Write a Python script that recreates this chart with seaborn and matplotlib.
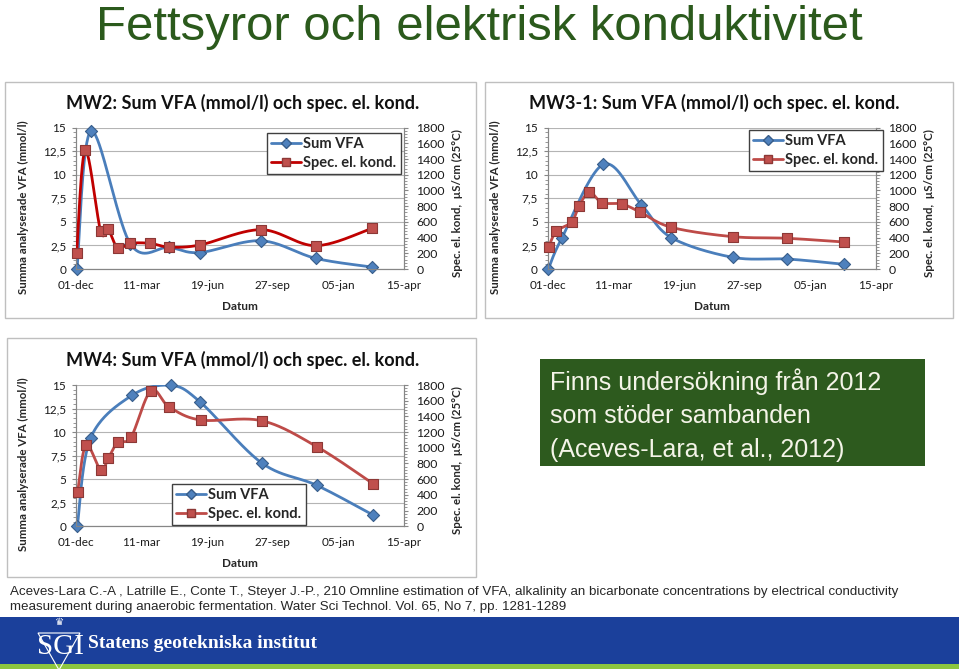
import numpy as np
import pandas as pd
import matplotlib
matplotlib.use("Agg")
import matplotlib.pyplot as plt
import seaborn as sns
from matplotlib.lines import Line2D
from matplotlib.patches import Rectangle, Polygon

# ---------------- data ----------------
tick_days = [0, 100, 200, 300, 400, 500]
tick_labels = ["01-dec", "11-mar", "19-jun", "27-sep", "05-jan", "15-apr"]
left_ticks = [0, 2.5, 5, 7.5, 10, 12.5, 15]
left_tick_labels = ["0", "2,5", "5", "7,5", "10", "12,5", "15"]
right_ticks = [0, 200, 400, 600, 800, 1000, 1200, 1400, 1600, 1800]

mw2_vfa_days = [1.5, 23, 83, 142, 189, 282, 365.5, 451]
mw2_vfa = [0.0, 14.64, 2.65, 2.3, 1.75, 3.0, 1.13, 0.21]
mw2_kond_days = [1, 14, 37.5, 49, 63.5, 83, 113, 142, 189, 282, 365.5, 451]
mw2_kond = [208, 1515, 484, 505, 267, 327, 327, 280, 306, 501, 297, 518]

mw3_vfa_days = [1, 21.3, 84.8, 142.6, 188.3, 281.7, 365, 451]
mw3_vfa = [0.0, 3.25, 11.11, 6.83, 3.33, 1.24, 1.06, 0.50]
mw3_kond_days = [1.5, 13.2, 36.5, 47.7, 63.5, 82.7, 112.7, 140.6, 188.3, 281.7, 365, 451]
mw3_kond = [284, 480, 599, 802, 980, 845, 828, 726, 531, 412, 391, 344]

mw4_vfa_days = [2, 22.3, 85.3, 144.2, 188.8, 283.2, 367, 452.8]
mw4_vfa = [0.0, 9.37, 13.90, 14.96, 13.23, 6.72, 4.35, 1.20]
mw4_kond_days = [2.5, 15.2, 37.6, 49.2, 64, 83.8, 114.2, 142.1, 189.8, 283.2, 367, 452.8]
mw4_kond = [441, 1036, 717, 866, 1074, 1133, 1728, 1520, 1354, 1345, 1015, 543]

series_names = ["Sum VFA", "Spec. el. kond."]
chart_titles = ["MW2: Sum VFA (mmol/l) och spec. el. kond.",
                "MW3-1: Sum VFA (mmol/l) och spec. el. kond.",
                "MW4: Sum VFA (mmol/l) och spec. el. kond."]

# ---------------- style ----------------
sns.set_style("white")
plt.rcParams["font.family"] = ["Lato", "DejaVu Sans"]

W, H = 959, 671
fig = plt.figure(figsize=(W / 100, H / 100), dpi=100)


def fx(x):
    return x / W


def fy(y):
    return 1 - y / H


BLUE_L, BLUE_F, BLUE_E = "#4A7EBB", "#4F81BD", "#385D8A"
RED_L, RED_F, RED_E = "#BE4B48", "#C0504D", "#8C3836"
AXC = "#868686"


def smooth(xs, ys, n=40):
    pts = np.column_stack([xs, ys]).astype(float)
    out = [pts[0]]
    for i in range(len(pts) - 1):
        p0 = pts[i - 1] if i > 0 else pts[i]
        p1, p2 = pts[i], pts[i + 1]
        p3 = pts[i + 2] if i + 2 < len(pts) else pts[i + 1]
        c1 = p1 + (p2 - p0) / 6
        c2 = p2 - (p3 - p1) / 6
        t = np.linspace(0, 1, n)[1:, None]
        seg = (1 - t) ** 3 * p1 + 3 * (1 - t) ** 2 * t * c1 + 3 * (1 - t) * t ** 2 * c2 + t ** 3 * p2
        out.extend(seg)
    out = np.array(out)
    return pd.DataFrame({"x": out[:, 0], "y": out[:, 1]})


def frame(x0, y0, x1, y1):
    fig.patches.append(Rectangle((fx(x0), fy(y1)), fx(x1) - fx(x0), fy(y0) - fy(y1),
                                 transform=fig.transFigure, facecolor="white",
                                 edgecolor="#BFBFBF", lw=1.0, zorder=-10))


def chart(ax_px, title, title_xy, vd, vv, kd, kv, red_line, leg_xy):
    x0, ytop, x1, ybot = ax_px
    ax = fig.add_axes([fx(x0), fy(ybot), fx(x1) - fx(x0), fy(ytop) - fy(ybot)])
    ax2 = ax.twinx()
    # red series (right axis)
    sk = smooth(kd, kv)
    sns.lineplot(data=sk, x="x", y="y", ax=ax2, sort=False, estimator=None,
                 color=red_line, lw=2.0, zorder=3)
    sns.scatterplot(x=kd, y=kv, ax=ax2, marker="s", s=55, color=RED_F,
                    edgecolor=RED_E, linewidth=0.8, zorder=4, clip_on=False)
    # blue series (left axis)
    sv = smooth(vd, vv)
    sns.lineplot(data=sv, x="x", y="y", ax=ax, sort=False, estimator=None,
                 color=BLUE_L, lw=2.0, zorder=3)
    sns.scatterplot(x=vd, y=vv, ax=ax, marker="D", s=38, color=BLUE_F,
                    edgecolor=BLUE_E, linewidth=0.8, zorder=4, clip_on=False)

    ax.set_xlim(0, 500)
    ax.set_ylim(0, 15)
    ax2.set_ylim(0, 1800)
    ax.set_xticks(tick_days)
    ax.set_xticklabels(tick_labels)
    ax.set_yticks(left_ticks)
    ax.set_yticklabels(left_tick_labels)
    ax2.set_yticks(right_ticks)
    ax.set_xticks(np.arange(0, 501, 20), minor=True)
    ax.set_yticks(np.arange(0, 15.01, 0.5), minor=True)
    ax2.set_yticks(np.arange(0, 1801, 40), minor=True)
    ax.grid(axis="y", color="#B4B4B4", lw=0.8)
    ax.set_axisbelow(True)
    for a in (ax, ax2):
        a.spines["top"].set_visible(False)
        for s in ("left", "right", "bottom"):
            a.spines[s].set_color(AXC)
            a.spines[s].set_linewidth(0.8)
        a.tick_params(which="major", length=3, color=AXC, labelsize=8.5,
                      labelcolor="#1a1a1a", pad=4)
        a.tick_params(which="minor", length=2, color=AXC)
    ax.tick_params(axis="x", pad=5)
    ax2.tick_params(axis="y", pad=6, labelsize=8.8)
    ax.set_xlabel("Datum", fontsize=8.5, fontweight="bold")
    ax.xaxis.set_label_coords(0.5, -0.225)
    ax.set_ylabel("Summa analyserade VFA (mmol/l)", fontsize=8.3, fontweight="bold")
    ax.yaxis.set_label_coords(-0.143, 0.44)
    ax2.set_ylabel("Spec. el. kond,  µS/cm (25°C)", fontsize=8.3, fontweight="bold")
    ax2.yaxis.set_label_coords(1.147, 0.47)
    ax.set_facecolor("white")
    ax2.patch.set_visible(False)

    fig.text(fx(title_xy[0]), fy(title_xy[1]), title, ha="center", va="center",
             fontsize=13, fontweight="bold", color="#111111")

    handles = [Line2D([], [], color=BLUE_L, lw=2, marker="D", ms=5.5, mfc=BLUE_F, mec=BLUE_E),
               Line2D([], [], color=red_line, lw=2, marker="s", ms=6, mfc=RED_F, mec=RED_E)]
    fig.legend(handles, series_names, loc="upper left",
               bbox_to_anchor=(fx(leg_xy[0]), fy(leg_xy[1])), frameon=True,
               fancybox=False, edgecolor="#404040", framealpha=1,
               prop={"weight": "bold", "size": 10.5}, handlelength=2.0,
               borderpad=0.3, labelspacing=0.3, handletextpad=0.2,
               borderaxespad=0)
    return ax


# ---------------- title ----------------
fig.text(0.5, fy(40), "Fettsyror och elektrisk konduktivitet", ha="center", va="baseline",
         fontsize=35.4, color="#2B5A1C",
         family=["Liberation Sans Narrow", "Liberation Sans", "DejaVu Sans"])

# ---------------- chart frames ----------------
frame(5, 82, 476, 318)
frame(485, 82, 953, 318)
frame(7, 338, 476, 577)

chart((76, 127.7, 404, 269), chart_titles[0], (243, 102.7),
      mw2_vfa_days, mw2_vfa, mw2_kond_days, mw2_kond, "#C00000", (267, 133))
chart((547.7, 127.7, 876, 269), chart_titles[1], (714, 102.7),
      mw3_vfa_days, mw3_vfa, mw3_kond_days, mw3_kond, RED_L, (749, 130))
chart((76, 385, 404, 526.3), chart_titles[2], (243, 360),
      mw4_vfa_days, mw4_vfa, mw4_kond_days, mw4_kond, RED_L, (172, 484))

# ---------------- green note box ----------------
fig.patches.append(Rectangle((fx(540), fy(466)), fx(925) - fx(540), fy(359) - fy(466),
                             transform=fig.transFigure, facecolor="#2D5A1E",
                             edgecolor="none", zorder=1))
note_lines = ["Finns undersökning från 2012", "som stöder sambanden", "(Aceves-Lara, et al., 2012)"]
for i, line in enumerate(note_lines):
    fig.text(fx(550), fy(382 + 34 * i), line, ha="left", va="center", fontsize=18,
             color="#F4F4E8", family=["Liberation Sans", "DejaVu Sans"], zorder=2)

# ---------------- reference ----------------
ref_lines = ["Aceves-Lara C.-A , Latrille E., Conte T., Steyer J.-P., 210 Omnline estimation of VFA, alkalinity an bicarbonate concentrations by electrical conductivity",
             "measurement during anaerobic fermentation. Water Sci Technol. Vol. 65, No 7, pp. 1281-1289"]
for i, line in enumerate(ref_lines):
    fig.text(fx(10), fy(592 + 15 * i), line, ha="left", va="center", fontsize=9.6,
             color="#262626", family=["Liberation Sans Narrow", "Liberation Sans", "DejaVu Sans"])

# ---------------- footer band ----------------
fig.patches.append(Rectangle((0, fy(664)), 1, fy(617) - fy(664), transform=fig.transFigure,
                             facecolor="#1B409B", edgecolor="none", zorder=1))
fig.patches.append(Rectangle((0, fy(669)), 1, fy(664) - fy(669), transform=fig.transFigure,
                             facecolor="#8DC63F", edgecolor="none", zorder=1))
fig.patches.append(Polygon([(fx(38), fy(633)), (fx(80), fy(633)), (fx(59), fy(670))], closed=True,
                           transform=fig.transFigure, facecolor="none", edgecolor="white",
                           lw=0.8, zorder=2))
fig.text(fx(59), fy(622), "♛", ha="center", va="center", fontsize=7.5, color="white",
         family=["DejaVu Sans"], zorder=3)
fig.text(fx(60), fy(647), "SGI", ha="center", va="center", fontsize=21, color="white",
         family=["Liberation Serif", "DejaVu Serif"], zorder=3)
fig.text(fx(88), fy(643), "Statens geotekniska institut", ha="left", va="center", fontsize=14,
         fontweight="bold", color="white", family=["Liberation Serif", "DejaVu Serif"], zorder=3)

fig.savefig("out.png", dpi=100, facecolor="white")
